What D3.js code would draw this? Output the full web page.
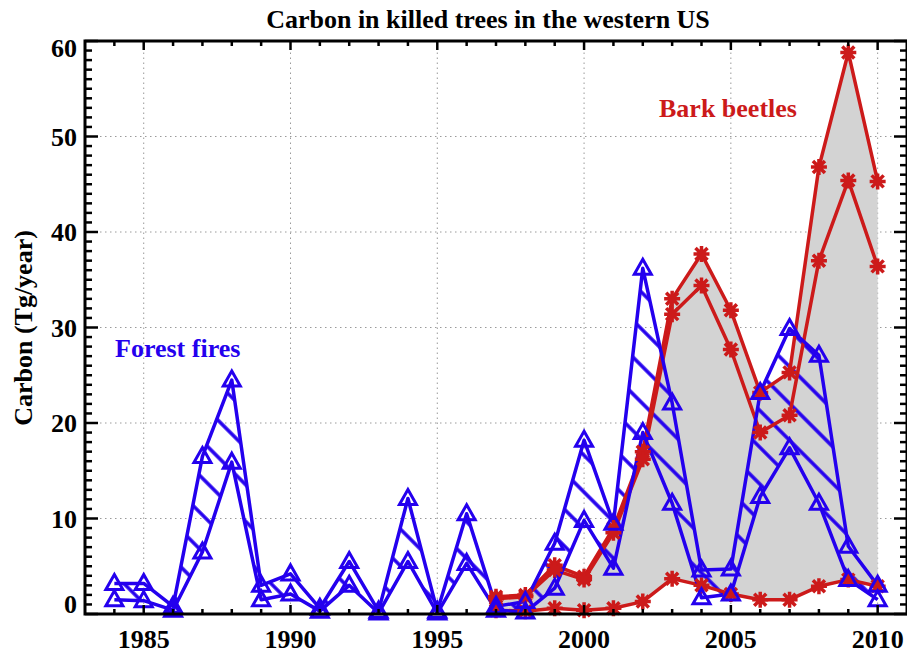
<!DOCTYPE html>
<html>
<head>
<meta charset="utf-8">
<script src="https://cdn.jsdelivr.net/npm/d3@7"></script>
<style>
  body { margin: 0; background: #fff; }
  text { font-family: "Liberation Serif", "Times New Roman", serif; font-weight: bold; }
</style>
</head>
<body>
<script>
// years 1984-2010, fires from 1984, beetles from 1997
const years = d3.range(1984, 2011)
const fireHigh = [3.2, 3.2, 0.8, 16.5, 24.5, 3.0, 4.2, 0.6, 5.5, 0.3, 12.1, 0.3, 10.5, 0.8, 1.3, 7.4, 18.2, 9.5, 36.2, 22.1, 4.6, 4.7, 23.2, 29.9, 27.1, 7.1, 3.0]
const fireLow  = [1.5, 1.4, 0.4, 6.5, 15.9, 1.5, 2.1, 0.3, 3.0, 0.1, 5.5, 0.1, 5.3, 0.4, 0.2, 2.7, 9.8, 4.8, 19.0, 11.6, 1.7, 2.1, 12.3, 17.4, 11.6, 3.6, 1.5]

const beetleYears = d3.range(1997, 2011)
const beetleHigh = [1.8, 2.0, 5.1, 3.9, 9.0, 17.0, 33.0, 37.7, 31.8, 23.2, 25.3, 46.8, 58.8, 45.3]
const beetleMid  = [1.6, 1.8, 4.6, 3.6, 8.5, 16.2, 31.4, 34.4, 27.7, 19.0, 20.8, 37.0, 45.4, 36.4]
const beetleLow  = [0.4, 0.3, 0.6, 0.4, 0.6, 1.3, 3.7, 3.0, 2.1, 1.5, 1.5, 2.9, 3.6, 2.9]

const xMajor = [1985, 1990, 1995, 2000, 2005, 2010]
const yMajor = [0, 10, 20, 30, 40, 50, 60]

const blue = "#2400ee"
const red = "#cc1a1a"

const W = 907, H = 653
const x = d3.scaleLinear().domain([1983, 2011]).range([85, 907])
const y = d3.scaleLinear().domain([0, 60]).range([614, 41])

const svg = d3.select("body").append("svg")
    .attr("width", W).attr("height", H)

// hatch pattern for the fire band
svg.append("defs").append("pattern")
    .attr("id", "hatch")
    .attr("patternUnits", "userSpaceOnUse")
    .attr("width", 26).attr("height", 26)
    .attr("patternTransform", "rotate(-45)")
  .append("line")
    .attr("x1", 13).attr("y1", -2).attr("x2", 13).attr("y2", 28)
    .attr("stroke", blue).attr("stroke-width", 3.5)

// grid
const grid = svg.append("g")
    .attr("stroke", "#9a9a9a").attr("stroke-width", 1).attr("stroke-dasharray", "1.5,3.5")
grid.selectAll(".gx").data(xMajor).join("line")
    .attr("x1", d => x(d)).attr("x2", d => x(d))
    .attr("y1", y(0)).attr("y2", y(60))
grid.selectAll(".gy").data(yMajor.slice(1, -1)).join("line")
    .attr("x1", x(1983)).attr("x2", x(2011))
    .attr("y1", d => y(d)).attr("y2", d => y(d))

// gray beetle band
const beetle = beetleYears.map((yr, i) => ({yr, hi: beetleHigh[i], mid: beetleMid[i], lo: beetleLow[i]}))
const fire = years.map((yr, i) => ({yr, hi: fireHigh[i], lo: fireLow[i]}))

svg.append("path")
    .datum(beetle)
    .attr("fill", "#d3d3d3")
    .attr("d", d3.area().x(d => x(d.yr)).y0(d => y(d.lo)).y1(d => y(d.hi)))

// hatched fire band
svg.append("path")
    .datum(fire)
    .attr("fill", "url(#hatch)")
    .attr("d", d3.area().x(d => x(d.yr)).y0(d => y(d.lo)).y1(d => y(d.hi)))

// lines
const line = key => d3.line().x(d => x(d.yr)).y(d => y(d[key]))

for (const k of ["hi", "mid", "lo"]) {
    svg.append("path").datum(beetle)
        .attr("fill", "none").attr("stroke", red).attr("stroke-width", 3.5)
        .attr("stroke-linejoin", "round")
        .attr("d", line(k))
}
for (const k of ["hi", "lo"]) {
    svg.append("path").datum(fire)
        .attr("fill", "none").attr("stroke", blue).attr("stroke-width", 3.5)
        .attr("stroke-linejoin", "round")
        .attr("d", line(k))
}

// asterisks
const star = "M-8,0L8,0M0,-8L0,8M-6,-6L6,6M-6,6L6,-6"
for (const k of ["hi", "mid", "lo"]) {
    svg.append("g").selectAll("path").data(beetle).join("path")
        .attr("transform", d => `translate(${x(d.yr)},${y(d[k])})`)
        .attr("d", star)
        .attr("fill", "none").attr("stroke", red).attr("stroke-width", 3.5)
}
// triangles
const tri = "M0,-9L8.5,6L-8.5,6Z"
for (const k of ["hi", "lo"]) {
    svg.append("g").selectAll("path").data(fire).join("path")
        .attr("transform", d => `translate(${x(d.yr)},${y(d[k])})`)
        .attr("d", tri)
        .attr("fill", "none").attr("stroke", blue).attr("stroke-width", 3)
}

// axes box + ticks, all pointing inward
const ax = svg.append("g").attr("stroke", "#000")
ax.append("rect")
    .attr("x", x(1983)).attr("y", y(60))
    .attr("width", x(2011) - x(1983)).attr("height", y(0) - y(60))
    .attr("fill", "none").attr("stroke-width", 3)

const yrTicks = d3.range(1984, 2011)
ax.selectAll(".tb").data(yrTicks).join("line")
    .attr("x1", d => x(d)).attr("x2", d => x(d))
    .attr("y1", y(0)).attr("y2", d => y(0) - (d % 5 == 0 ? 9 : 5))
    .attr("stroke-width", 2.5)
ax.selectAll(".tt").data(yrTicks).join("line")
    .attr("x1", d => x(d)).attr("x2", d => x(d))
    .attr("y1", y(60)).attr("y2", d => y(60) + (d % 5 == 0 ? 9 : 5))
    .attr("stroke-width", 2.5)

const vTicks = d3.range(0, 61)
ax.selectAll(".tl").data(vTicks).join("line")
    .attr("x1", x(1983)).attr("x2", d => x(1983) + (d % 10 == 0 ? 13 : 7))
    .attr("y1", d => y(d)).attr("y2", d => y(d))
    .attr("stroke-width", 2.5)
ax.selectAll(".tr").data(vTicks).join("line")
    .attr("x1", x(2011)).attr("x2", d => x(2011) - (d % 10 == 0 ? 13 : 7))
    .attr("y1", d => y(d)).attr("y2", d => y(d))
    .attr("stroke-width", 2.5)

// tick labels
svg.append("g").selectAll("text").data(xMajor).join("text")
    .attr("x", d => x(d)).attr("y", 648)
    .attr("text-anchor", "middle")
    .attr("font-size", 26)
    .text(d => d)
svg.append("g").selectAll("text").data(yMajor).join("text")
    .attr("x", 77)
    .attr("y", d => d == 0 ? y(d) - 1 : d == 60 ? y(d) + 16 : y(d) + 9)
    .attr("text-anchor", "end")
    .attr("font-size", 26)
    .text(d => d)

// titles
svg.append("text")
    .attr("x", 488).attr("y", 28)
    .attr("text-anchor", "middle").attr("font-size", 26)
    .text("Carbon in killed trees in the western US")
svg.append("text")
    .attr("transform", `translate(32,328) rotate(-90)`)
    .attr("text-anchor", "middle").attr("font-size", 26)
    .text("Carbon (Tg/year)")

svg.append("text")
    .attr("x", 115).attr("y", 357)
    .attr("fill", blue).attr("font-size", 26)
    .text("Forest fires")
svg.append("text")
    .attr("x", 659).attr("y", 117)
    .attr("fill", red).attr("font-size", 26)
    .text("Bark beetles")
</script>
</body>
</html>
